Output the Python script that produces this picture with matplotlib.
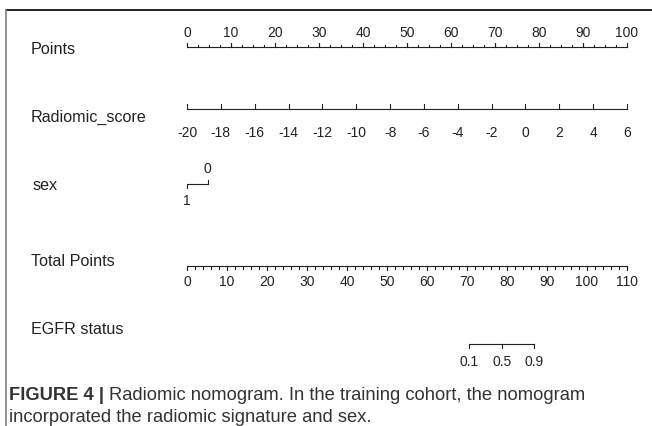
import numpy as np
import matplotlib.pyplot as plt
import matplotlib.transforms as mtransforms

# nomogram scales
points_ticks = np.arange(0, 101, 10)
points_minor = np.arange(0, 100.1, 2.5)
radiomic_ticks = np.arange(-20, 7, 2)
radiomic_range = (-20, 6)          # maps onto 0..100 points
sex_levels = ["1", "0"]
sex_points = [0, 4.7]
total_ticks = np.arange(0, 111, 10)
total_minor = np.arange(0, 110.1, 2)
total_range = 110
egfr_probs = ["0.1", "0.5", "0.9"]
egfr_total = [70.6, 78.8, 86.8]   # total points where each probability sits

row_labels = ["Points", "Radiomic_score", "sex", "Total Points", "EGFR status"]
row_label_y = [49, 117, 186, 262, 329]

ink = "#222222"
plt.rcParams['font.family'] = ["Liberation Sans", "DejaVu Sans"]

fig = plt.figure(figsize=(6.52, 4.26), dpi=100)
ax = fig.add_axes([0, 0, 1, 1])
# x in points units: 0 -> 187px, 100 -> 627px ; y in pixel rows
px_per_pt = 4.4
ax.set_xlim(-187 / px_per_pt, (652 - 187) / px_per_pt)
ax.set_ylim(426, 0)
ax.axis("off")
lw = 0.8
tfs = 10

def hline(x0, x1, y):
    ax.plot([x0, x1], [y, y], color=ink, lw=lw, solid_capstyle="butt")

def ticks(xs, y, length):
    for x in xs:
        ax.plot([x, x], [y, y + length], color=ink, lw=lw)

# Points row
y = 47
hline(0, 100, y)
ticks(points_minor, y, -2)
ticks(points_ticks, y, -4)
for v in points_ticks:
    ax.text(v, 33, str(v), ha="center", va="center", fontsize=tfs, color=ink)

# Radiomic score row
y = 109
hline(0, 100, y)
r0, r1 = radiomic_range
rad_pts = (radiomic_ticks - r0) / (r1 - r0) * 100
ticks(rad_pts, y, -5)
for v, x in zip(radiomic_ticks, rad_pts):
    ax.text(x, 133, str(v), ha="center", va="center", fontsize=tfs, color=ink)

# sex row
y = 184
hline(sex_points[0], sex_points[1], y)
ax.plot([sex_points[0]] * 2, [y, y + 4], color=ink, lw=lw)
ax.plot([sex_points[1]] * 2, [y, y - 4], color=ink, lw=lw)
ax.text(sex_points[0], 201, sex_levels[0], ha="center", va="center", fontsize=tfs, color=ink)
ax.text(sex_points[1], 169, sex_levels[1], ha="center", va="center", fontsize=tfs, color=ink)

# Total points row
y = 266
tot_scale = 100 / total_range
hline(0, 100, y)
ticks(total_minor * tot_scale, y, 3)
ticks(total_ticks * tot_scale, y, 4)
for v in total_ticks:
    ax.text(v * tot_scale, 282, str(v), ha="center", va="center", fontsize=tfs, color=ink)

# EGFR row
y = 344
ex = np.array(egfr_total) * tot_scale
hline(ex[0], ex[-1], y)
ticks(ex, y, 4)
for p, x in zip(egfr_probs, ex):
    ax.text(x, 362, p, ha="center", va="center", fontsize=tfs, color=ink)

# row labels
blend = mtransforms.blended_transform_factory(fig.transFigure, ax.transData)
for lab, ly in zip(row_labels, row_label_y):
    ax.text(31 / 652 if lab != "sex" else 33 / 652, ly, lab, transform=blend,
            ha="left", va="center", fontsize=11.6, color=ink)

# frame lines
ax.plot([-181 / px_per_pt, 200], [10, 10], color="#222222", lw=1.4)
ax.plot([-181 / px_per_pt] * 2, [10, 430], color="#888888", lw=1.3)

# caption
cap_col = "#333333"
cfam = ["Liberation Sans", "DejaVu Sans"]
cfs = 13.2
t1 = fig.text(9 / 652, 1 - 396 / 426, "FIGURE 4 |", fontsize=cfs, fontweight="bold",
              color=cap_col, family=cfam, va="center", ha="left")
fig.canvas.draw()
bb = t1.get_window_extent()
x_after = bb.x1 / fig.bbox.width + 5 / 652
fig.text(x_after, 1 - 396 / 426,
         "Radiomic nomogram. In the training cohort, the nomogram",
         fontsize=cfs, color=cap_col, family=cfam, va="center", ha="left")
fig.text(9 / 652, 1 - 417 / 426,
         "incorporated the radiomic signature and sex.",
         fontsize=cfs, color=cap_col, family=cfam, va="center", ha="left")

fig.savefig("out.png", dpi=100)
